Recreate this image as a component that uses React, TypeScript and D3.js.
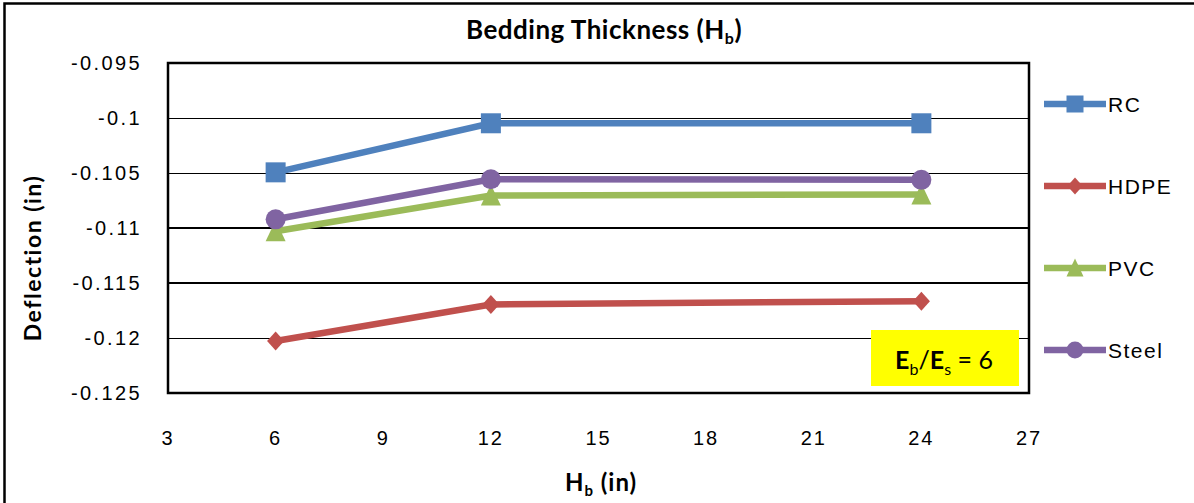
import React from "react";
import * as d3 from "d3";

const xValues = [6, 12, 24];
const seriesNames = ["RC", "HDPE", "PVC", "Steel"];
const rcValues = [-0.10494, -0.10048, -0.10048];
const hdpeValues = [-0.12027, -0.11695, -0.11665];
const pvcValues = [-0.1103, -0.10705, -0.10695];
const steelValues = [-0.10921, -0.10557, -0.10562];
const seriesColors = ["#4F81BD", "#C0504D", "#9BBB59", "#8064A2"];
const seriesMarkers = ["square", "diamond", "triangle", "circle"];
const xTicks = [3, 6, 9, 12, 15, 18, 21, 24, 27];
const yTicks = [-0.095, -0.1, -0.105, -0.11, -0.115, -0.12, -0.125];

const W = 1194;
const H = 503;
const X0 = 168, X1 = 1029, Y0 = 63, Y1 = 393;

function Marker({ type, x, y, color, s }: { type: string; x: number; y: number; color: string; s: number }) {
  if (type === "square") return <rect x={x - s / 2} y={y - s / 2} width={s} height={s} fill={color} />;
  if (type === "circle") return <circle cx={x} cy={y} r={s / 2} fill={color} />;
  if (type === "triangle") {
    const h = s;
    return <path d={`M${x},${y - h / 2 - 1} L${x + s / 2},${y + h / 2} L${x - s / 2},${y + h / 2} Z`} fill={color} />;
  }
  const hw = s * 0.45, hh = s / 2;
  return <path d={`M${x},${y - hh} L${x + hw},${y} L${x},${y + hh} L${x - hw},${y} Z`} fill={color} />;
}

export default function App() {
  const xScale = d3.scaleLinear().domain([3, 27]).range([X0, X1]);
  const yScale = d3.scaleLinear().domain([-0.125, -0.095]).range([Y1, Y0]);
  const allValues = [rcValues, hdpeValues, pvcValues, steelValues];
  const line = d3
    .line<number>()
    .x((_, i) => xScale(xValues[i]))
    .y((d) => yScale(d));
  const font = "'Liberation Sans', Arial, sans-serif";
  const titleFont = "Lato, 'Open Sans', sans-serif";
  const legendY = [104, 186, 268, 350];
  const fmt = (v: number) => String(+v.toFixed(3));

  return (
    <svg width={W} height={H} style={{ position: "absolute", left: 0, top: 0, background: "#fff" }}>
      <rect x={0} y={0} width={W} height={H} fill="#fff" />
      {/* outer border */}
      <path d={`M4.5,${H + 5} L4.5,3.5 L${W + 5},3.5`} fill="none" stroke="#000" strokeWidth={2.5} />
      {/* title */}
      <text x={604} y={39} textAnchor="middle" fontFamily={titleFont} fontWeight="bold" fontSize={26} letterSpacing={0.5} fill="#000">
        Bedding Thickness (H<tspan fontSize={16} dy={5}>b</tspan><tspan dy={-5}>)</tspan>
      </text>
      {/* gridlines */}
      {yTicks.map((t) => {
        const thick = Math.abs(t + 0.11) < 1e-6 || Math.abs(t + 0.115) < 1e-6;
        const y = Math.round(yScale(t)) + (thick ? 0 : 0.5);
        return <line key={t} x1={X0} x2={X1} y1={y} y2={y} stroke="#000" strokeWidth={thick ? 2 : 1} />;
      })}
      {/* plot border */}
      <rect x={X0} y={Y0} width={X1 - X0} height={Y1 - Y0} fill="none" stroke="#000" strokeWidth={2.5} />
      {/* y tick labels */}
      {yTicks.map((t) => (
        <text key={t} x={142} y={yScale(t) + 7} textAnchor="end" fontFamily={font} fontSize={20} letterSpacing={2.4} fill="#000">
          {fmt(t)}
        </text>
      ))}
      {/* x tick labels */}
      {xTicks.map((t) => (
        <text key={t} x={xScale(t)} y={445} textAnchor="middle" fontFamily={font} fontSize={20} letterSpacing={2} fill="#000">
          {t}
        </text>
      ))}
      {/* axis titles */}
      <text x={601} y={491} textAnchor="middle" fontFamily={titleFont} fontWeight="bold" fontSize={24} letterSpacing={1} fill="#000">
        H<tspan fontSize={15} dy={5}>b</tspan><tspan dy={-5}> (in)</tspan>
      </text>
      <text
        transform={`translate(41,258) rotate(-90)`}
        textAnchor="middle"
        fontFamily={titleFont}
        fontWeight="bold"
        fontSize={23}
        letterSpacing={1.5}
        fill="#000"
      >
        Deflection (in)
      </text>
      {/* series */}
      {allValues.map((vals, si) => (
        <g key={seriesNames[si]}>
          <path d={line(vals) || ""} fill="none" stroke={seriesColors[si]} strokeWidth={6.5} />
          {vals.map((v, i) => (
            <Marker key={i} type={seriesMarkers[si]} x={xScale(xValues[i])} y={yScale(v)} color={seriesColors[si]} s={seriesMarkers[si] === "diamond" ? 19 : 20} />
          ))}
        </g>
      ))}
      {/* annotation box */}
      <rect x={871} y={330} width={148} height={56} fill="#FFFF00" />
      <text x={944} y={369} textAnchor="middle" fontFamily={titleFont} fontSize={25} fill="#000">
        <tspan fontWeight="bold">E</tspan>
        <tspan fontSize={16} dy={6}>b</tspan>
        <tspan dy={-6}>/</tspan>
        <tspan fontWeight="bold">E</tspan>
        <tspan fontSize={16} dy={6}>s</tspan>
        <tspan dy={-6}> = 6</tspan>
      </text>
      {/* legend */}
      {seriesNames.map((n, i) => (
        <g key={n}>
          <line x1={1044} x2={1106} y1={legendY[i]} y2={legendY[i]} stroke={seriesColors[i]} strokeWidth={6.5} />
          <Marker type={seriesMarkers[i]} x={1075} y={legendY[i]} color={seriesColors[i]} s={17} />
          <text x={1108} y={legendY[i] + 8} fontFamily={font} fontSize={21} letterSpacing={1.5} fill="#000">
            {n}
          </text>
        </g>
      ))}
    </svg>
  );
}
